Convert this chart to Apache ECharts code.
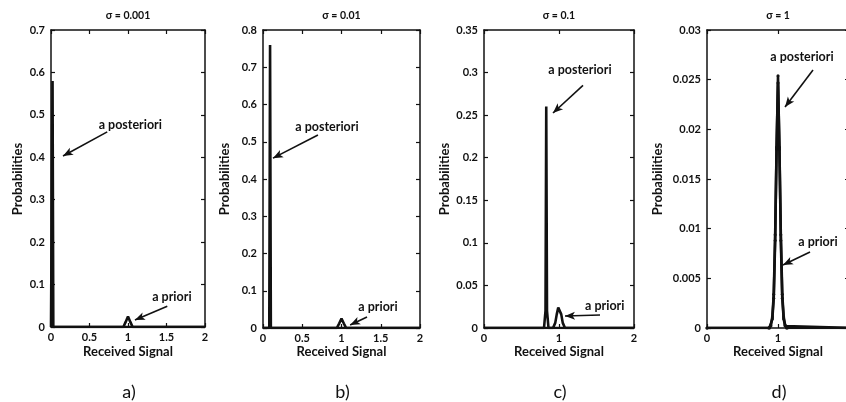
<!DOCTYPE html>
<html>
<head>
<meta charset="utf-8">
<script src="https://cdn.jsdelivr.net/npm/echarts@6/dist/echarts.min.js"></script>
<style>
  html, body { margin: 0; padding: 0; background: #fff; }
  #chart { width: 846px; height: 402px; }
</style>
</head>
<body>
<div id="chart"></div>
<script>
// Panel titles, letters and axis settings
const sigmaTitles = ['σ = 0.001', 'σ = 0.01', 'σ = 0.1', 'σ = 1'];
const panelLetters = ['a)', 'b)', 'c)', 'd)'];
const yMax = [0.7, 0.8, 0.35, 0.03];
const yStep = [0.1, 0.1, 0.05, 0.005];
const xStep = [0.5, 0.5, 1, 1];

// a posteriori probabilities [received signal, probability]
const posteriorA = [[0, 0], [0.01, 0], [0.02, 0.58], [0.03, 0], [2, 0]];
const posteriorB = [[0, 0], [0.08, 0], [0.09, 0.76], [0.10, 0], [2, 0]];
const posteriorC = [[0, 0], [0.80, 0], [0.82, 0.02], [0.83, 0.26], [0.84, 0.02], [0.86, 0], [2, 0]];
const posteriorD = [[0, 0], [0.88, 0], [0.90, 0.0002], [0.92, 0.0009], [0.94, 0.0030], [0.96, 0.0088],
  [0.98, 0.0180], [1.00, 0.0254], [1.02, 0.0180], [1.04, 0.0088], [1.06, 0.0030], [1.08, 0.0009],
  [1.10, 0.0002], [1.12, 0], [2, 0]];

// a priori probabilities
const priorA = [[0, 0], [0.94, 0], [0.97, 0.012], [1.00, 0.025], [1.03, 0.012], [1.06, 0], [2, 0]];
const priorB = [[0, 0], [0.94, 0], [0.97, 0.012], [1.00, 0.025], [1.03, 0.012], [1.06, 0], [2, 0]];
const priorC = [[0, 0], [0.92, 0], [0.95, 0.006], [0.97, 0.016], [0.99, 0.024], [1.00, 0.025],
  [1.01, 0.024], [1.03, 0.016], [1.05, 0.006], [1.08, 0], [2, 0]];
const priorD = [[0, 0], [0.87, 0], [0.90, 0.0003], [0.92, 0.0011], [0.94, 0.0034], [0.96, 0.0094],
  [0.98, 0.0182], [1.00, 0.0247], [1.02, 0.0182], [1.04, 0.0094], [1.06, 0.0034], [1.08, 0.0011],
  [1.10, 0.0003], [1.13, 0], [2, 0]];

// annotation arrows: [text x, text y, tail x, tail y, head x, head y] in data units
const postNotes = [
  [1.03, 0.476, 0.73, 0.46, 0.156, 0.403],
  [0.815, 0.54, 0.70, 0.518, 0.127, 0.456],
  [1.28, 0.303, 1.32, 0.285, 0.92, 0.2525],
  [1.338, 0.02728, 1.493, 0.02597, 1.099, 0.02225]
];
const priorNotes = [
  [1.57, 0.0707, 1.51, 0.049, 1.09, 0.0165],
  [1.465, 0.056, 1.325, 0.0295, 1.11, 0.008],
  [1.61, 0.0258, 1.547, 0.0153, 1.08, 0.0141],
  [1.563, 0.00866, 1.451, 0.00765, 1.07, 0.00634]
];

const posteriors = [posteriorA, posteriorB, posteriorC, posteriorD];
const priors = [priorA, priorB, priorC, priorD];

// grid boxes in pixels (the last panel runs past the right edge of the canvas)
const boxes = [
  { left: 51, top: 30, width: 154, height: 297 },
  { left: 263, top: 30, width: 157, height: 298 },
  { left: 484, top: 30, width: 150, height: 298 },
  { left: 707, top: 30, width: 142, height: 298 }
];
// horizontal centre of each rotated y axis name
const yNameX = [18, 225, 445, 658];

const FONT = 'Lato, "Open Sans", sans-serif';
const INK = '#111';

function fmt(v) { return String(+v.toFixed(4)); }

const grid = [], xAxis = [], yAxis = [], series = [], graphic = [];

boxes.forEach((b, i) => {
  grid.push({ left: b.left, top: b.top, width: b.width, height: b.height,
    containLabel: false, outerBoundsMode: 'none' });
  const lineStyle = { color: INK, width: 1.5 };
  const tick = { show: true, inside: true, length: 4, lineStyle: { color: INK, width: 1.2 } };
  xAxis.push({
    type: 'value', gridIndex: i, min: 0, max: 2, interval: xStep[i], position: 'bottom',
    axisLine: { show: true, onZero: false, lineStyle }, axisTick: tick, splitLine: { show: false },
    axisLabel: { color: INK, fontFamily: FONT, fontWeight: 'bold', fontSize: 11, margin: 5, formatter: fmt }
  });
  xAxis.push({
    type: 'value', gridIndex: i, min: 0, max: 2, interval: xStep[i], position: 'top',
    axisLine: { show: true, onZero: false, lineStyle }, axisTick: tick, splitLine: { show: false },
    axisLabel: { show: false }
  });
  yAxis.push({
    type: 'value', gridIndex: i, min: 0, max: yMax[i], interval: yStep[i], position: 'left',
    axisLine: { show: true, onZero: false, lineStyle }, axisTick: tick, splitLine: { show: false },
    axisLabel: { color: INK, fontFamily: FONT, fontWeight: 'bold', fontSize: 11, margin: 6, formatter: fmt }
  });
  yAxis.push({
    type: 'value', gridIndex: i, min: 0, max: yMax[i], interval: yStep[i], position: 'right',
    axisLine: { show: true, onZero: false, lineStyle }, axisTick: tick, splitLine: { show: false },
    axisLabel: { show: false }
  });

  const pn = postNotes[i], qn = priorNotes[i];
  const noteLabel = (text, x, y) => ({
    coord: [x, y], symbol: 'rect', symbolSize: 1, itemStyle: { color: 'rgba(0,0,0,0)' },
    label: { show: true, position: 'inside', formatter: text, color: INK, fontFamily: FONT,
      fontWeight: 'bold', fontSize: 12.5 }
  });
  const arrowStyle = { color: INK, width: 1.6, type: 'solid' };

  series.push({
    type: 'line', xAxisIndex: 2 * i, yAxisIndex: 2 * i, data: posteriors[i],
    showSymbol: i === 3, symbol: 'circle', symbolSize: 3,
    itemStyle: { color: INK }, lineStyle: { color: INK, width: 2.6 },
    animation: false, silent: true, z: 3,
    markLine: {
      silent: true, animation: false, symbol: ['none', 'arrow'], symbolSize: [6, 10],
      label: { show: false }, lineStyle: arrowStyle,
      data: [[{ coord: [pn[2], pn[3]] }, { coord: [pn[4], pn[5]] }]]
    },
    markPoint: { silent: true, animation: false, data: [noteLabel('a posteriori', pn[0], pn[1])] }
  });
  series.push({
    type: 'line', xAxisIndex: 2 * i, yAxisIndex: 2 * i, data: priors[i],
    showSymbol: i === 3, symbol: 'circle', symbolSize: 3,
    itemStyle: { color: INK }, lineStyle: { color: INK, width: 2.6 },
    animation: false, silent: true, z: 3,
    markLine: {
      silent: true, animation: false, symbol: ['none', 'arrow'], symbolSize: [6, 10],
      label: { show: false }, lineStyle: arrowStyle,
      data: [[{ coord: [qn[2], qn[3]] }, { coord: [qn[4], qn[5]] }]]
    },
    markPoint: { silent: true, animation: false, data: [noteLabel('a priori', qn[0], qn[1])] }
  });

  const cx = Math.min(b.left + b.width / 2, 778);
  // sigma title
  graphic.push({ type: 'text', x: cx, y: 16,
    style: { text: sigmaTitles[i], textAlign: 'center', textVerticalAlign: 'middle',
      fill: INK, font: 'bold 10.5px ' + FONT } });
  // x axis name
  graphic.push({ type: 'text', x: cx, y: 352,
    style: { text: 'Received Signal', textAlign: 'center', textVerticalAlign: 'middle',
      fill: INK, font: 'bold 13px ' + FONT } });
  // y axis name
  graphic.push({ type: 'text', x: yNameX[i], y: 179, rotation: Math.PI / 2,
    style: { text: 'Probabilities', textAlign: 'center', textVerticalAlign: 'middle',
      fill: INK, font: 'bold 13px ' + FONT } });
  // panel letter
  graphic.push({ type: 'text', x: cx + 1, y: 392,
    style: { text: panelLetters[i], textAlign: 'center', textVerticalAlign: 'middle',
      fill: INK, font: '18px ' + FONT } });
});

const chart = echarts.init(document.getElementById('chart'), null, { renderer: 'canvas' });
chart.setOption({
  backgroundColor: '#fff',
  animation: false,
  grid, xAxis, yAxis, series, graphic
});
</script>
</body>
</html>
